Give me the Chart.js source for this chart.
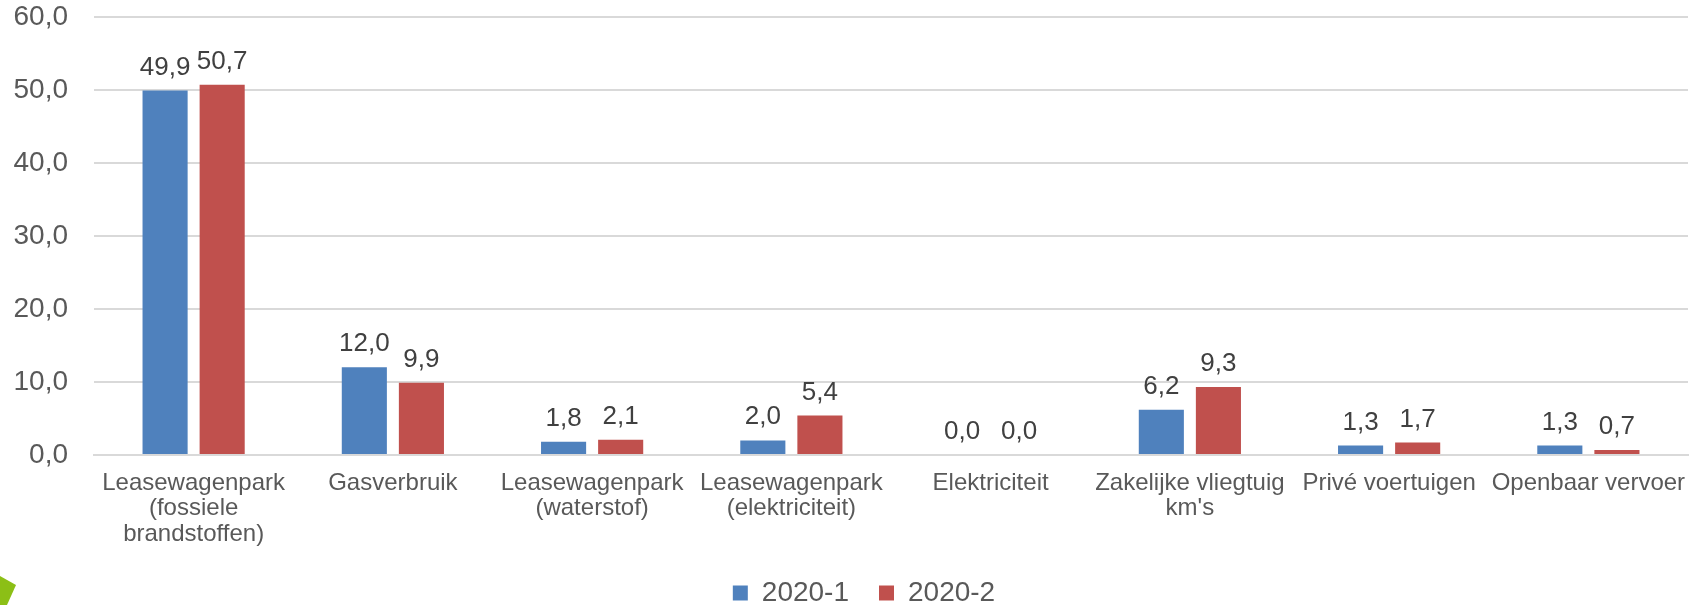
<!DOCTYPE html>
<html>
<head>
<meta charset="utf-8">
<script src="https://cdn.jsdelivr.net/npm/chart.js@4"></script>
<style>
  html, body { margin: 0; padding: 0; background: #fff; overflow: hidden; }
  #wrap { width: 1702px; height: 605px; position: relative; overflow: hidden; }
</style>
</head>
<body>
<div id="wrap"><canvas id="grafico" width="1702" height="617"></canvas></div>
<script>
// categorieen (meerregelig zoals in het origineel)
var categorieen = [
    ['Leasewagenpark', '(fossiele', 'brandstoffen)'],
    'Gasverbruik',
    ['Leasewagenpark', '(waterstof)'],
    ['Leasewagenpark', '(elektriciteit)'],
    'Elektriciteit',
    ['Zakelijke vliegtuig', "km's"],
    'Privé voertuigen',
    'Openbaar vervoer'
];

var reeksNamen = ['2020-1', '2020-2'];
var waarden2020_1 = [49.9, 12.0, 1.8, 2.0, 0.0, 6.2, 1.3, 1.3];
var waarden2020_2 = [50.7, 9.9, 2.1, 5.4, 0.0, 9.3, 1.7, 0.7];

var yMin = 0;
var yMax = 60;
var yStap = 10;

var lettertype = '"Liberation Sans", Arial, sans-serif';

// getal als "49,9"
function formatKomma(v) {
    return v.toFixed(1).replace('.', ',');
}

// labels boven de staven
var dataLabels = {
    id: 'dataLabels',
    afterDatasetsDraw: function (chart) {
        var ctx = chart.ctx;
        ctx.save();
        ctx.font = '26px ' + lettertype;
        ctx.fillStyle = '#404040';
        ctx.textAlign = 'center';
        ctx.textBaseline = 'alphabetic';
        chart.data.datasets.forEach(function (ds, i) {
            chart.getDatasetMeta(i).data.forEach(function (bar, j) {
                ctx.fillText(formatKomma(ds.data[j]), bar.x, bar.y - 16);
            });
        });
        ctx.restore();
    }
};

// legenda iets naar rechts, zoals in het origineel
var legendaSchuif = {
    id: 'legendaSchuif',
    afterLayout: function (chart) {
        if (chart.legend) {
            chart.legend.left += 20;
            chart.legend.right += 20;
        }
    }
};

// groen hoekje linksonder (logo-fragment)
var hoekje = {
    id: 'hoekje',
    afterDraw: function (chart) {
        var ctx = chart.ctx;
        ctx.save();
        ctx.fillStyle = '#8cbf16';
        ctx.beginPath();
        ctx.moveTo(0, 576);
        ctx.lineTo(16, 585);
        ctx.lineTo(7, 605);
        ctx.lineTo(0, 605);
        ctx.closePath();
        ctx.fill();
        ctx.restore();
    }
};

var ctx = document.getElementById('grafico').getContext('2d');
var myChart = new Chart(ctx, {
    type: 'bar',
    data: {
        labels: categorieen,
        datasets: [{
            label: reeksNamen[0],
            data: waarden2020_1,
            backgroundColor: '#4f81bd'
        }, {
            label: reeksNamen[1],
            data: waarden2020_2,
            backgroundColor: '#c0504d'
        }]
    },
    options: {
        responsive: false,
        animation: false,
        layout: {
            padding: { top: 1, right: 14, left: 0, bottom: 0 }
        },
        datasets: {
            bar: {
                barPercentage: 0.79,
                categoryPercentage: 0.573
            }
        },
        scales: {
            x: {
                grid: { display: false },
                border: { color: '#d9d9d9', width: 2 },
                ticks: {
                    color: '#595959',
                    font: { family: lettertype, size: 24, lineHeight: 1.05 },
                    maxRotation: 0,
                    autoSkip: false,
                    padding: 8
                },
                afterFit: function (scale) { scale.height = 94; }
            },
            y: {
                min: yMin,
                max: yMax,
                border: { display: false },
                grid: {
                    color: '#d9d9d9',
                    lineWidth: 2,
                    drawTicks: true,
                    tickLength: 26,
                    tickColor: 'rgba(0,0,0,0)'
                },
                ticks: {
                    stepSize: yStap,
                    color: '#595959',
                    padding: 0,
                    font: { family: lettertype, size: 28 },
                    callback: function (v) { return formatKomma(v); }
                },
                afterFit: function (scale) { scale.width = 94; }
            }
        },
        plugins: {
            legend: {
                position: 'bottom',
                labels: {
                    boxWidth: 15,
                    boxHeight: 15,
                    color: '#595959',
                    padding: 30,
                    font: { family: lettertype, size: 28 }
                }
            },
            tooltip: { enabled: false }
        }
    },
    plugins: [dataLabels, legendaSchuif, hoekje]
});
</script>
</body>
</html>
